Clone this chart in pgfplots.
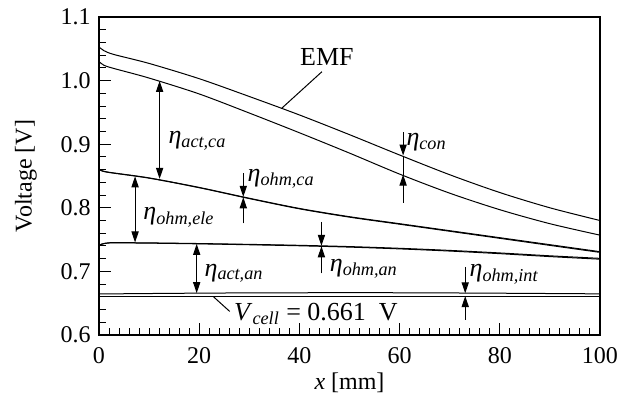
\documentclass[border=0pt]{standalone}
\usepackage{fontspec}
\setmainfont{Liberation Serif}
\usepackage{amsmath}
\usepackage{pgfplots}
\pgfplotsset{compat=1.18}
\usetikzlibrary{arrows.meta}

\newcommand{\ET}[1]{{\fontsize{13}{15}\selectfont\textit{η}$_{\textit{#1}}$}}

\begin{document}
\fontsize{12}{14}\selectfont
\begin{tikzpicture}[font=\fontsize{12}{14}\selectfont,
  ar/.style={-{Triangle[length=5.5pt,width=3.6pt]}, line width=0.5pt},
  dar/.style={{Triangle[length=5.5pt,width=3.6pt]}-{Triangle[length=5.5pt,width=3.6pt]}, line width=0.5pt},
  lab/.style={anchor=west, inner sep=0pt}]
\useasboundingbox (-49.5pt,-33pt) rectangle (267pt,167.5pt);
\begin{axis}[
  scale only axis, width=250.5pt, height=159pt,
  xmin=0, xmax=100, ymin=0.6, ymax=1.1,
  xtick={0,20,40,60,80,100}, ytick={0.6,0.7,0.8,0.9,1.0,1.1},
  minor x tick num=9, minor y tick num=4,
  tick align=inside, xtick pos=bottom, ytick pos=left,
  major tick length=6pt, minor tick length=3.5pt,
  axis line style={line width=0.7pt},
  every tick/.style={line width=0.5pt, black},
  yticklabel style={/pgf/number format/.cd, fixed, fixed zerofill, precision=1},
  /pgf/number format/assume math mode=true,
  tick label style={font=\fontsize{12}{14}\selectfont},
  xticklabel style={yshift=-2pt},
  clip=false,
  xlabel={\textit{x} [mm]}, ylabel={Voltage [V]},
  every axis x label/.style={at={(axis description cs:0.5,-0.151)}, anchor=center, font=\fontsize{12}{14}\selectfont},
  every axis y label/.style={at={(axis description cs:-0.1457,0.5)}, anchor=center, rotate=90, font=\fontsize{12}{14}\selectfont},
]
% EMF
\addplot[black, line width=0.5pt, smooth, tension=0.5] coordinates {
 (0,1.053) (1,1.047) (3,1.041) (10,1.027) (20,1.003) (30,0.975) (40,0.946)
 (50,0.915) (60,0.883) (70,0.852) (80,0.824) (90,0.800) (100,0.780)};
% EMF - eta_con
\addplot[black, line width=0.5pt, smooth, tension=0.5] coordinates {
 (0,1.030) (1,1.024) (3,1.019) (10,1.004) (20,0.979) (30,0.949) (40,0.918)
 (50,0.886) (60,0.853) (70,0.823) (80,0.797) (90,0.775) (100,0.757)};
% - eta_act,ca
\addplot[black, line width=0.5pt, smooth, tension=0.5] coordinates {
 (0,0.861) (1.5,0.8565) (10,0.847) (20,0.832) (30,0.815) (40,0.799)
 (50,0.786) (60,0.775) (70,0.764) (80,0.753) (90,0.742) (100,0.731)};
% - eta_ohm,ca
\addplot[black, line width=0.5pt, smooth, tension=0.5] coordinates {
 (0,0.8607) (1.5,0.8562) (10,0.8466) (20,0.8316) (30,0.8145) (40,0.7984)
 (50,0.7853) (60,0.7742) (70,0.7631) (80,0.7520) (90,0.7409) (100,0.7299)};
% - eta_ohm,ele
\addplot[black, line width=0.5pt, smooth, tension=0.5] coordinates {
 (0,0.741) (2,0.745) (10,0.7448) (20,0.7438) (30,0.7425) (40,0.741)
 (50,0.739) (60,0.7363) (70,0.733) (80,0.729) (90,0.7245) (100,0.7205)};
% - eta_ohm,an
\addplot[black, line width=0.5pt, smooth, tension=0.5] coordinates {
 (0,0.7407) (2,0.7447) (10,0.7444) (20,0.7433) (30,0.7419) (40,0.7403)
 (50,0.7382) (60,0.7354) (70,0.732) (80,0.7279) (90,0.7233) (100,0.7192)};
% - eta_act,an
\addplot[black, line width=0.5pt, smooth, tension=0.5] coordinates {
 (0,0.6645) (10,0.6652) (20,0.6658) (30,0.6662) (40,0.6664) (50,0.6665)
 (60,0.6664) (70,0.6661) (80,0.6657) (90,0.6652) (100,0.6647)};
% V_cell
\addplot[black, line width=0.5pt] coordinates {(0,0.661) (100,0.661)};

% annotations
\draw[line width=0.5pt] (axis cs:44.5,1.014) -- (axis cs:36.4,0.956);
\node[anchor=center, font=\fontsize{13}{15}\selectfont] at (axis cs:45.5,1.037) {EMF};

\draw[ar] (axis cs:60.7,0.919) -- (axis cs:60.7,0.8822);
\draw[line width=0.5pt] (axis cs:60.7,0.8822) -- (axis cs:60.7,0.8522);
\draw[ar] (axis cs:60.7,0.808) -- (axis cs:60.7,0.8522);
\node[lab] at (axis cs:61.3,0.9027) {\ET{con}};

\draw[dar] (axis cs:12.1,0.9995) -- (axis cs:12.1,0.8455);
\node[lab] at (axis cs:13.8,0.905) {\ET{act,ca}};

\draw[ar] (axis cs:28.8,0.854) -- (axis cs:28.8,0.8172);
\draw[ar] (axis cs:28.8,0.7754) -- (axis cs:28.8,0.8165);
\node[lab] at (axis cs:29.6,0.846) {\ET{ohm,ca}};

\draw[dar] (axis cs:7.2,0.8495) -- (axis cs:7.2,0.7455);
\node[lab] at (axis cs:8.8,0.785) {\ET{ohm,ele}};

\draw[ar] (axis cs:44.4,0.778) -- (axis cs:44.4,0.7402);
\draw[ar] (axis cs:44.4,0.697) -- (axis cs:44.4,0.7395);
\node[lab] at (axis cs:46.0,0.7038) {\ET{ohm,an}};

\draw[dar] (axis cs:19.5,0.7432) -- (axis cs:19.5,0.6658);
\node[lab] at (axis cs:21.0,0.697) {\ET{act,an}};

\draw[ar] (axis cs:73.1,0.7073) -- (axis cs:73.1,0.6656);
\draw[ar] (axis cs:73.1,0.6236) -- (axis cs:73.1,0.6612);
\node[lab] at (axis cs:73.9,0.6955) {\ET{ohm,int}};

\draw[line width=0.5pt] (axis cs:22.8,0.6605) -- (axis cs:26.1,0.637);
\node[lab, font=\fontsize{13}{15}\selectfont] at (axis cs:26.9,0.633) {\textit{V}$_{\textit{cell}}$ = 0.661~~V};
\end{axis}
\end{tikzpicture}
\end{document}
